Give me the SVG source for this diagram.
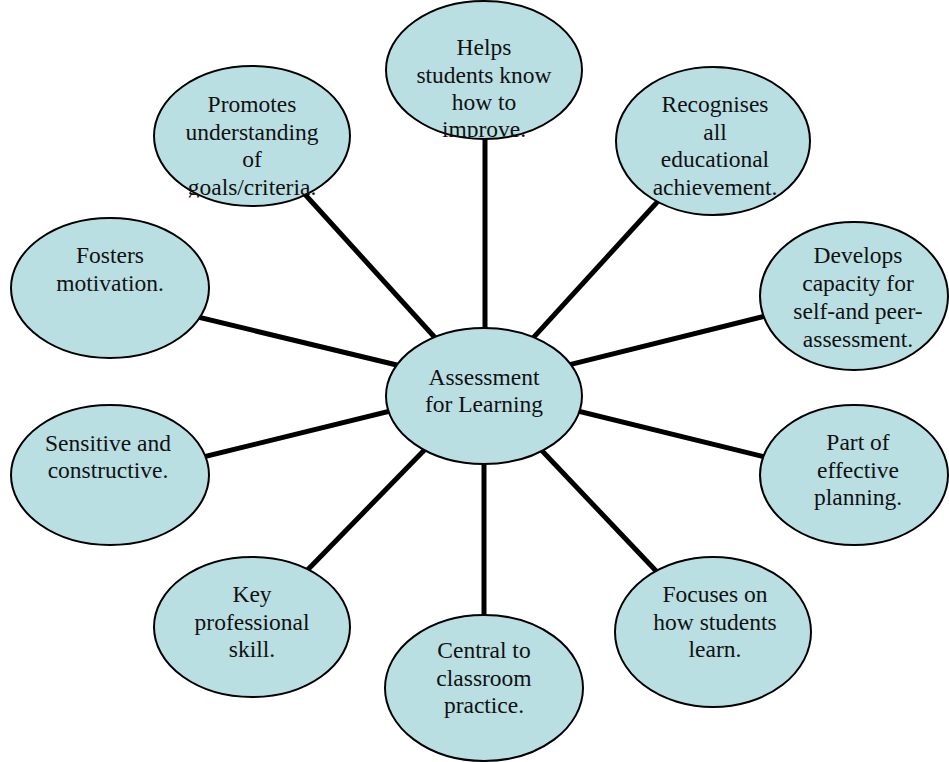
<svg xmlns="http://www.w3.org/2000/svg" width="949" height="762" viewBox="0 0 949 762">
  <style>
    .spoke { stroke: #000; stroke-width: 5; stroke-linecap: butt; }
    .bubble { fill: #B9DFE3; stroke: #000; stroke-width: 2; }
    .label { font-family: "Liberation Serif", "Times New Roman", serif; font-size: 23.5px; fill: #111; text-anchor: middle; }
  </style>
  <defs>
    <clipPath id="clip-helps"><rect x="380" y="0" width="210" height="137.5"/></clipPath>
    <clipPath id="clip-promotes"><rect x="150" y="60" width="210" height="137.5"/></clipPath>
    <clipPath id="clip-recognises"><rect x="610" y="60" width="210" height="137.5"/></clipPath>
  </defs>
  <rect width="949" height="762" fill="#fff"/>

  <!-- spokes from the hub out to each bubble -->
  <g id="connectors">
    <line class="spoke" x1="485" y1="70" x2="485" y2="396"/>
    <line class="spoke" x1="252" y1="136" x2="488" y2="396"/>
    <line class="spoke" x1="713" y1="141" x2="480" y2="396"/>
    <line class="spoke" x1="150" y1="305.5" x2="484" y2="386"/>
    <line class="spoke" x1="830" y1="300" x2="484" y2="386"/>
    <line class="spoke" x1="150" y1="470" x2="484" y2="388"/>
    <line class="spoke" x1="830" y1="473" x2="484" y2="388"/>
    <line class="spoke" x1="252" y1="627" x2="477" y2="396"/>
    <line class="spoke" x1="490" y1="396" x2="714" y2="632"/>
    <line class="spoke" x1="484" y1="396" x2="484" y2="688"/>
  </g>

  <g id="node-helps">
    <ellipse class="bubble" cx="484" cy="70" rx="98" ry="69"/>
    <g clip-path="url(#clip-helps)">
      <text class="label" x="484" y="55">Helps</text>
      <text class="label" x="484" y="82.5">students know</text>
      <text class="label" x="484" y="110">how to</text>
      <text class="label" x="484" y="137">improve.</text>
    </g>
  </g>

  <g id="node-promotes">
    <ellipse class="bubble" cx="252" cy="136" rx="98" ry="70"/>
    <g clip-path="url(#clip-promotes)">
      <text class="label" x="252" y="112">Promotes</text>
      <text class="label" x="252" y="139.5">understanding</text>
      <text class="label" x="252" y="167">of</text>
      <text class="label" x="252" y="195">goals/criteria.</text>
    </g>
  </g>

  <g id="node-recognises">
    <ellipse class="bubble" cx="713" cy="141" rx="97" ry="74"/>
    <g clip-path="url(#clip-recognises)">
      <text class="label" x="715" y="112">Recognises</text>
      <text class="label" x="715" y="139.5">all</text>
      <text class="label" x="715" y="167">educational</text>
      <text class="label" x="715" y="194.5">achievement.</text>
    </g>
  </g>

  <g id="node-fosters">
    <ellipse class="bubble" cx="110" cy="288" rx="99" ry="70"/>
    <text class="label" x="110" y="263">Fosters</text>
    <text class="label" x="110" y="291">motivation.</text>
  </g>

  <g id="node-develops">
    <ellipse class="bubble" cx="854" cy="296" rx="94" ry="74"/>
    <text class="label" x="858" y="263">Develops</text>
    <text class="label" x="858" y="291">capacity for</text>
    <text class="label" x="858" y="319">self-and peer-</text>
    <text class="label" x="858" y="347">assessment.</text>
  </g>

  <g id="node-hub">
    <ellipse class="bubble" cx="484" cy="396" rx="98" ry="68"/>
    <text class="label" x="484" y="385">Assessment</text>
    <text class="label" x="484" y="412">for Learning</text>
  </g>

  <g id="node-sensitive">
    <ellipse class="bubble" cx="110" cy="475" rx="99" ry="70"/>
    <text class="label" x="108" y="451">Sensitive and</text>
    <text class="label" x="108" y="478">constructive.</text>
  </g>

  <g id="node-planning">
    <ellipse class="bubble" cx="854" cy="475" rx="94" ry="70"/>
    <text class="label" x="858" y="450">Part of</text>
    <text class="label" x="858" y="478">effective</text>
    <text class="label" x="858" y="505">planning.</text>
  </g>

  <g id="node-skill">
    <ellipse class="bubble" cx="252" cy="627" rx="98" ry="70"/>
    <text class="label" x="252" y="602">Key</text>
    <text class="label" x="252" y="630">professional</text>
    <text class="label" x="252" y="657">skill.</text>
  </g>

  <g id="node-central">
    <ellipse class="bubble" cx="484" cy="688" rx="99" ry="73"/>
    <text class="label" x="484" y="658">Central to</text>
    <text class="label" x="484" y="686">classroom</text>
    <text class="label" x="484" y="713">practice.</text>
  </g>

  <g id="node-focuses">
    <ellipse class="bubble" cx="713" cy="632" rx="98" ry="75"/>
    <text class="label" x="715" y="602">Focuses on</text>
    <text class="label" x="715" y="630">how students</text>
    <text class="label" x="715" y="657">learn.</text>
  </g>
</svg>
